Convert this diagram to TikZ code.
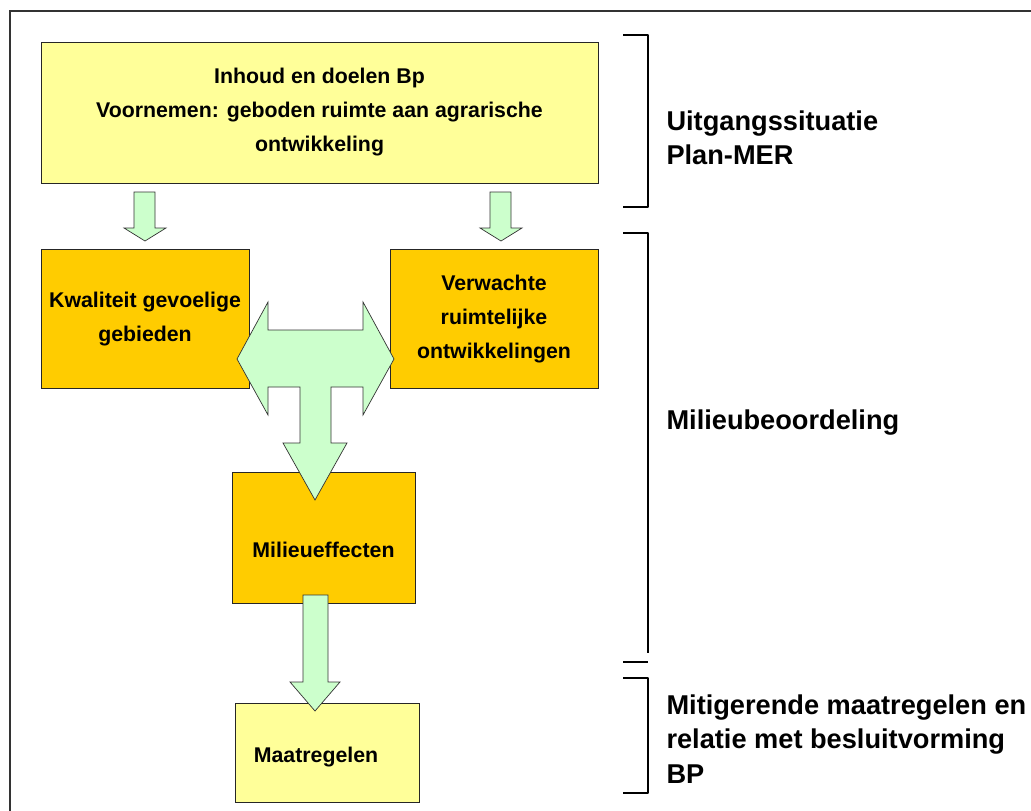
\documentclass[tikz,border=0pt]{standalone}
\usepackage{fontspec}
\setmainfont{Liberation Sans}
\usetikzlibrary{positioning}
\definecolor{lightFill}{HTML}{FFFF99}
\definecolor{darkFill}{HTML}{FFCC00}
\definecolor{arrowFill}{HTML}{CCFFCC}
\tikzset{
    LightBox/.style = {
        draw=black!85, line width=0.8pt, fill=lightFill,
        align=center, font=\fontsize{21.3}{34}\selectfont\bfseries
    },
    DarkBox/.style = {
        LightBox, fill=darkFill
    },
    BlockArrow/.style = {
        draw=black!80, line width=0.7pt, fill=arrowFill, line join=miter
    },
    Bracket/.style = {
        line width=2.6pt, line join=round
    },
    Phase/.style = {
        anchor=west, align=left, font=\fontsize{27.2}{34.5}\selectfont\bfseries
    }
}

\begin{document}
\begin{tikzpicture}[x=1pt, y=-1pt]
    \useasboundingbox (0,0) rectangle (1031,811);
    \clip (0,0) rectangle (1031,811);
    \draw [line width=2.4pt, black!80] (10,11) rectangle (1060,840);

    % boxes
    \node[LightBox, minimum width=557pt, minimum height=141pt] (doel) at (319.5,112.5)
        {Inhoud en doelen Bp\\ Voornemen: geboden ruimte aan agrarische\\ ontwikkeling};
    \node[DarkBox, minimum width=208pt, minimum height=139pt,
        below=66pt of doel.south west, anchor=north west] (kwal)
        {Kwaliteit gevoelige\\ gebieden};
    \node[DarkBox, minimum width=208pt, minimum height=139pt,
        below=66pt of doel.south east, anchor=north east] (verw)
        {Verwachte\\ ruimtelijke\\ ontwikkelingen};
    \node[DarkBox, minimum width=183pt, minimum height=131pt] (effect) at (323.5,537.5)
        {\raisebox{-20pt}[0pt][0pt]{Milieueffecten}};
    \node[LightBox, minimum width=184pt, minimum height=99pt] (maat) at (327,752.5)
        {\raisebox{-10pt}[0pt][0pt]{\hspace*{-22pt}Maatregelen}};

    % block arrows
    \draw [BlockArrow] (134,192) -- (155,192) -- (155,228) -- (166,228) -- (145,241)
        -- (124,228) -- (134,228) -- cycle;
    \draw [BlockArrow] (490,192) -- (511,192) -- (511,228) -- (522,228) -- (501,241)
        -- (480,228) -- (490,228) -- cycle;
    \draw [BlockArrow] (237,359) -- (268,302) -- (268,330) -- (363,330) -- (363,302)
        -- (394,359) -- (363,415) -- (363,387) -- (331,387) -- (331,443) -- (347,443)
        -- (315,500) -- (283,443) -- (300,443) -- (300,387) -- (268,387) -- (268,415)
        -- cycle;
    \draw [BlockArrow] (303,595) -- (328,595) -- (328,682) -- (340,682) -- (315,711)
        -- (290,682) -- (303,682) -- cycle;

    % brackets
    \draw [Bracket] (623,35) -- (648,35) -- (648,207) -- (623,207);
    \draw [Bracket] (623,233) -- (648,233) -- (648,653);
    \draw [Bracket] (623,662) -- (648,662);
    \draw [Bracket] (623,678) -- (648,678) -- (648,793) -- (623,793);

    \node[Phase] (uitgang) at (663,138) {Uitgangssituatie\\ Plan-MER};
    \node[Phase] (beoord) at (663,423) {Milieubeoordeling};
    \node[Phase] (mitig) at (663,739) {Mitigerende maatregelen en\\ relatie met besluitvorming\\ BP};
\end{tikzpicture}
\end{document}
